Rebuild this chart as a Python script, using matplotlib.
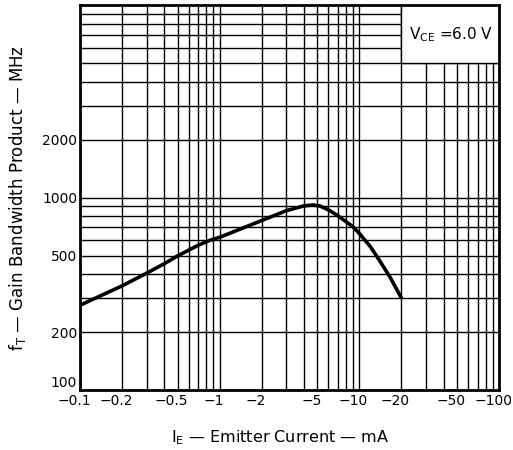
import matplotlib
matplotlib.use('Agg')
import matplotlib.pyplot as plt
from matplotlib.patches import Rectangle
from matplotlib.ticker import FixedLocator, LogLocator, NullFormatter
from matplotlib.transforms import ScaledTranslation

plt.rcParams['font.family'] = ['DejaVu Sans']

# emitter current magnitude (mA) and gain bandwidth product (MHz)
ie_ma = [0.1, 0.2, 0.3, 0.4, 0.5, 0.7, 0.85, 1, 2, 3, 4, 4.65, 5.2, 6, 7, 8, 9, 10,
         12, 14, 16.6, 20]
ft_mhz = [276, 348, 405, 453, 498, 565, 600, 622, 760, 855, 905, 915, 905, 863, 805, 750,
          705, 650, 555, 468, 385, 300]

x_ticks = [0.1, 0.2, 0.5, 1, 2, 5, 10, 20, 50, 100]
x_labels = ['\u22120.1', '\u22120.2', '\u22120.5', '\u22121', '\u22122', '\u22125',
            '\u221210', '\u221220', '\u221250', '\u2212100']
y_ticks = [100, 200, 500, 1000, 2000]
y_labels = ['100', '200', '500', '1000', '2000']

fig = plt.figure(figsize=(5.13, 4.5), dpi=100)
ax = fig.add_axes([0.156, 0.133, 0.817, 0.856])

ax.set_xscale('log')
ax.set_yscale('log')
ax.set_xlim(0.1, 100)
ax.set_ylim(100, 10000)

ax.xaxis.set_major_locator(FixedLocator(x_ticks))
ax.set_xticklabels(x_labels)
ax.xaxis.set_minor_locator(LogLocator(base=10, subs=range(2, 10)))
ax.xaxis.set_minor_formatter(NullFormatter())
ax.yaxis.set_major_locator(FixedLocator(y_ticks))
ax.set_yticklabels(y_labels)
ax.yaxis.set_minor_locator(LogLocator(base=10, subs=range(2, 10)))
ax.yaxis.set_minor_formatter(NullFormatter())

ax.set_axisbelow(True)
ax.grid(True, which='both', color='black', linewidth=1.0)
ax.tick_params(which='both', length=0, labelsize=10, pad=3)
ax.tick_params(axis='y', pad=2)

# x labels sit a little left of their grid lines, "100" sits above the bottom edge
shift = ScaledTranslation(-6 / 100, 0, fig.dpi_scale_trans)
for lab in ax.get_xticklabels():
    lab.set_transform(lab.get_transform() + shift)
ax.get_yticklabels()[0].set_va('bottom')

for s in ax.spines.values():
    s.set_linewidth(2)

# condition box in the top right corner
ax.add_patch(Rectangle((20, 5000), 80, 5000, facecolor='white', edgecolor='black',
                       linewidth=1.0, zorder=1.5))
ax.text(45, 7000, 'V$_\\mathregular{CE}$ =6.0 V', ha='center', va='center', fontsize=11, zorder=3)

ax.plot(ie_ma, ft_mhz, color='black', linewidth=2.6, solid_capstyle='butt',
        solid_joinstyle='round', zorder=4)

ax.set_xlabel('I$_\\mathregular{E}$ \u2014 Emitter Current \u2014 mA', fontsize=11.5)
ax.xaxis.set_label_coords(0.477, -0.1)
ax.set_ylabel('f$_\\mathregular{T}$ \u2014 Gain Bandwidth Product \u2014 MHz', fontsize=12, labelpad=10)

plt.savefig('out.png', dpi=100)
